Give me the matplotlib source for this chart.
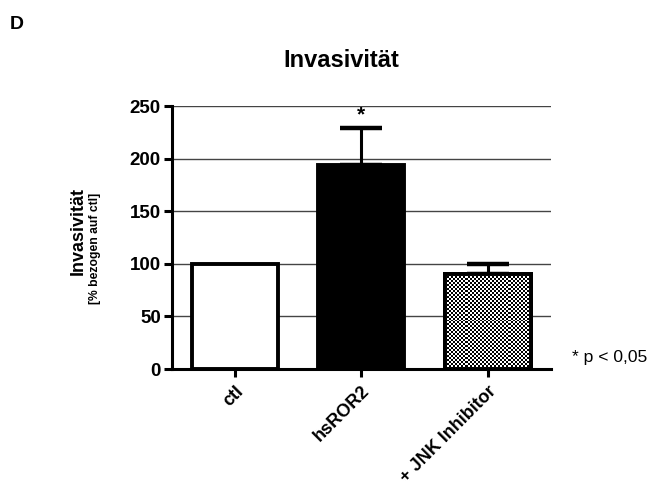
import numpy as np
import matplotlib
matplotlib.use('Agg')
import matplotlib.pyplot as plt

plt.rcParams['font.family'] = ['Liberation Sans', 'DejaVu Sans']

groups = ['ctl', 'hsROR2', '+ JNK Inhibitor']
means = [100, 194, 90]
errs = [0, 35, 10]
yticks = [0, 50, 100, 150, 200, 250]

fig = plt.figure(figsize=(6.51, 4.96), dpi=100)
ax = fig.add_axes([0.264, 0.256, 0.582, 0.530])

x = np.arange(len(groups))
w = 0.68
ax.yaxis.grid(True, color='#444444', linewidth=1.0, zorder=0)
ax.set_axisbelow(True)

faces = ['white', 'black', 'white']
bars = ax.bar(x, means, width=w, color=faces, edgecolor='black', linewidth=2.8, zorder=2)

# checkerboard fill for the inhibitor bar
b = bars[2]
bx, by = b.get_x(), b.get_y()
bw, bh = b.get_width(), b.get_height()
ncol, nrow = 42, 48
cb = np.indices((nrow, ncol)).sum(axis=0) % 2
im = ax.imshow(cb, cmap='gray', interpolation='nearest', aspect='auto',
               extent=[bx, bx + bw, by, by + bh], zorder=2.5)
im.set_clip_path(b)
ax.bar(x[2], means[2], width=w, color='none', edgecolor='black', linewidth=2.8, zorder=3)

# upward error bars only
for xi, m, e in zip(x, means, errs):
    if e > 0:
        ax.errorbar(xi, m, yerr=[[0], [e]], fmt='none', ecolor='black',
                    elinewidth=2.2, capsize=15, capthick=3.2, zorder=1.5)

ax.text(x[1], means[1] + errs[1] + 4, '*', ha='center', va='bottom',
        fontsize=15, fontweight='bold')

ax.set_xlim(-0.5, 2.5)
ax.set_ylim(0, 250)
ax.set_yticks(yticks)
ax.set_xticks(x)
ax.set_xticklabels(groups, rotation=45, ha='right', rotation_mode='anchor',
                   fontsize=13, fontweight='bold')
for lbl in ax.get_yticklabels():
    lbl.set_fontweight('bold')
    lbl.set_fontsize(13.5)

for s in ['top', 'right']:
    ax.spines[s].set_visible(False)
ax.spines['left'].set_linewidth(2.2)
ax.spines['bottom'].set_linewidth(2.2)
ax.tick_params(axis='both', width=2.2, length=6, direction='out', pad=2)
ax.tick_params(axis='x', pad=4)

fig.text(0.524, 0.879, 'Invasivität', fontsize=17, fontweight='bold',
         ha='center', va='center')
fig.text(0.120, 0.534, 'Invasivität', rotation=90, ha='center', va='center',
         fontsize=13, fontweight='bold')
fig.text(0.146, 0.500, '[% bezogen auf ctl]', rotation=90, ha='center', va='center',
         fontsize=8.7, fontweight='bold')

fig.text(0.015, 0.950, 'D', fontsize=14, fontweight='bold', ha='left', va='center')
fig.text(0.879, 0.280, '* p < 0,05', fontsize=12.6, ha='left', va='center')

fig.savefig('out.png', dpi=100)
